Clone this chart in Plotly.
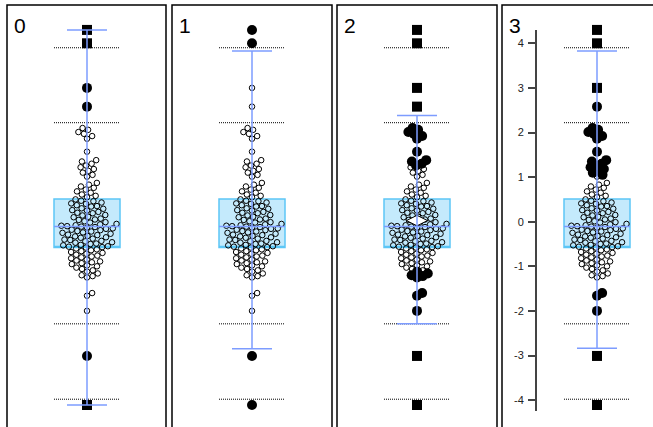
import math
import plotly.graph_objects as go

# ---------------- data ----------------
categories = ["0", "1", "2", "3"]

values = [
    4.30, 4.00, 3.00, 2.58,
    2.10, 2.06, 2.01, 1.97, 1.92, 1.86,
    1.57,
    1.38, 1.35, 1.30, 1.26, 1.22, 1.18, 1.14, 1.10, 1.05, 1.01,
    0.87, 0.83, 0.79, 0.76, 0.72, 0.68, 0.65, 0.61, 0.58, 0.55,
    0.50, 0.47, 0.46, 0.43, 0.41, 0.40, 0.37, 0.35, 0.34, 0.30, 0.29, 0.26,
    0.25, 0.22, 0.20, 0.19, 0.15, 0.14, 0.11, 0.10, 0.07, 0.05, 0.04, 0.01,
    -0.01, -0.02, -0.05, -0.06, -0.08, -0.09, -0.10, -0.11,
    -0.12, -0.13, -0.15, -0.16, -0.18, -0.19, -0.21, -0.22, -0.24, -0.25,
    -0.27, -0.29, -0.30, -0.32, -0.33, -0.35, -0.36, -0.38, -0.40, -0.41,
    -0.43, -0.44, -0.46, -0.47, -0.49, -0.50, -0.52, -0.53, -0.55, -0.56,
    -0.57, -0.58,
    -0.60, -0.62, -0.64, -0.66, -0.68, -0.70, -0.72, -0.74, -0.76, -0.78,
    -0.80, -0.82, -0.85, -0.87, -0.89, -0.91, -0.93, -0.95, -0.98, -1.00,
    -1.03, -1.06, -1.09, -1.12, -1.16, -1.20, -1.22, -1.25,
    -1.60, -1.66, -2.00, -3.01, -4.11,
]

q1 = -0.58
median = -0.11
q3 = 0.51

fence_values = [3.90, 2.22, -2.29, -3.98]

whisker_lo = [-4.11, -2.85, -2.29, -2.84]
whisker_hi = [4.30, 3.83, 2.38, 3.83]

# per panel: inside [open_lo, open_hi] -> open circle; beyond square limits -> square
open_lo = [-2.29, -2.85, -1.10, -1.30]
open_hi = [2.22, 3.83, 1.24, 1.03]
square_lo = [-3.98, -99.0, -2.29, -2.84]
square_hi = [3.90, 99.0, 2.38, 2.80]
show_mean = [False, False, True, False]

y_ticks = [4, 3, 2, 1, 0, -1, -2, -3, -4]
y_tick_text = ["4", "3", "2", "1", "0", "-1", "-2", "-3", "-4"]

# ---------------- layout constants ----------------
W, H = 653, 427
Y_MAX, Y_MIN = 4.9709, -4.6031
PX_PER_Y = H / (Y_MAX - Y_MIN)
centers_px = [87, 252, 417, 597]
HALF_PX = 55.0           # x-axis half width in px (range -1..1)
PX_PER_X = HALF_PX
frames_px = [(7, 166), (172, 332), (337, 497), (502, 664)]
FRAME_TOP = 5

BOX_FILL = "#c4eafc"
BOX_LINE = "#5cc6f6"
WHISK = "#7d9cff"
FONT = "Liberation Sans, Arial, sans-serif"


def swarm_offsets(vals, d):
    ys = [v * PX_PER_Y for v in vals]
    order = sorted(range(len(vals)), key=lambda i: ys[i])
    placed = []
    xs = [0.0] * len(vals)
    for i in order:
        y = ys[i]
        near = [(xj, yj) for (xj, yj) in placed if abs(y - yj) < d]
        cands = [0.0]
        for xj, yj in near:
            dx = math.sqrt(d * d - (y - yj) ** 2)
            cands += [xj + dx, xj - dx]
        cands.sort(key=lambda c: (abs(c), -c))
        chosen = 0.0
        for c in cands:
            if all((c - xj) ** 2 + (y - yj) ** 2 >= d * d - 1e-6 for xj, yj in near):
                chosen = c
                break
        xs[i] = chosen
        placed.append((chosen, y))
    return [x / PX_PER_X for x in xs]


offs = swarm_offsets(values, 5.8)
mean_value = sum(values) / len(values)

fig = go.Figure()

for p in range(4):
    xa = "x" if p == 0 else f"x{p + 1}"
    # box
    fig.add_trace(go.Box(
        x=[0], q1=[q1], median=[q1], q3=[q3], lowerfence=[q1], upperfence=[q3],
        width=66 / PX_PER_X, fillcolor=BOX_FILL, line=dict(color=BOX_LINE, width=1.5),
        whiskerwidth=0, boxpoints=False, xaxis=xa, yaxis="y", hoverinfo="skip",
        showlegend=False,
    ))
    # dotted fence lines
    fx, fy = [], []
    for f in fence_values:
        fx += [-33 / PX_PER_X, 33 / PX_PER_X, None]
        fy += [f, f, None]
    fig.add_trace(go.Scatter(x=fx, y=fy, mode="lines", xaxis=xa, yaxis="y",
                             line=dict(color="black", width=1, dash="1px,1px"),
                             hoverinfo="skip", showlegend=False))
    # points
    groups = {"open": ([], []), "filled": ([], []), "square": ([], [])}
    for v, o in zip(values, offs):
        if open_lo[p] <= v <= open_hi[p]:
            g = "open"
        elif v > square_hi[p] or v < square_lo[p]:
            g = "square"
        else:
            g = "filled"
        groups[g][0].append(o)
        groups[g][1].append(v)
    fig.add_trace(go.Scatter(x=groups["open"][0], y=groups["open"][1], mode="markers",
                             xaxis=xa, yaxis="y", cliponaxis=False,
                             marker=dict(symbol="circle-open", size=5.5, color="black",
                                         line=dict(width=1, color="black")),
                             hoverinfo="skip", showlegend=False))
    fig.add_trace(go.Scatter(x=groups["filled"][0], y=groups["filled"][1], mode="markers",
                             xaxis=xa, yaxis="y", cliponaxis=False,
                             marker=dict(symbol="circle", size=10, color="black",
                                         line=dict(width=0)),
                             hoverinfo="skip", showlegend=False))
    fig.add_trace(go.Scatter(x=groups["square"][0], y=groups["square"][1], mode="markers",
                             xaxis=xa, yaxis="y", cliponaxis=False,
                             marker=dict(symbol="square", size=10, color="black",
                                         line=dict(width=0)),
                             hoverinfo="skip", showlegend=False))
    if show_mean[p]:
        fig.add_trace(go.Scatter(x=[0], y=[mean_value], mode="markers", xaxis=xa,
                                 yaxis="y",
                                 marker=dict(symbol="diamond-wide", size=15, color="white",
                                             line=dict(width=1, color="black")),
                                 hoverinfo="skip", showlegend=False))
    # whisker + caps + median
    cw = 20 / PX_PER_X
    bw = 33 / PX_PER_X
    lx = [0, 0, None, -cw, cw, None, -cw, cw]
    ly = [whisker_lo[p], whisker_hi[p], None, whisker_lo[p], whisker_lo[p], None,
          whisker_hi[p], whisker_hi[p]]
    fig.add_trace(go.Scatter(x=lx, y=ly, mode="lines", xaxis=xa, yaxis="y",
                             line=dict(color=WHISK, width=1.5), cliponaxis=False,
                             hoverinfo="skip", showlegend=False))
    fig.add_trace(go.Scatter(x=[-bw, bw], y=[median, median], mode="lines", xaxis=xa,
                             yaxis="y", line=dict(color=WHISK, width=1.5),
                             hoverinfo="skip", showlegend=False))

# dummy trace for the visible axis of panel 3
fig.add_trace(go.Scatter(x=[0], y=[0], mode="markers", xaxis="x4", yaxis="y2",
                         marker=dict(opacity=0), hoverinfo="skip", showlegend=False))

layout = dict(
    width=W, height=H, margin=dict(l=0, r=0, t=0, b=0),
    paper_bgcolor="white", plot_bgcolor="rgba(0,0,0,0)", showlegend=False,
    yaxis=dict(range=[Y_MIN, Y_MAX], visible=False, domain=[0, 1]),
)
for p in range(4):
    key = "xaxis" if p == 0 else f"xaxis{p + 1}"
    c = centers_px[p]
    layout[key] = dict(range=[-1, 1], visible=False, anchor="y",
                       domain=[(c - HALF_PX) / W, (c + HALF_PX) / W])

# visible y axis in panel 3
ax_top_px, ax_bot_px = 30, 411
y2_hi = Y_MAX - ax_top_px / PX_PER_Y
y2_lo = Y_MAX - ax_bot_px / PX_PER_Y
layout["yaxis2"] = dict(
    range=[y2_lo, y2_hi], domain=[(H - ax_bot_px) / H, (H - ax_top_px) / H],
    anchor="free", position=536 / W, side="left",
    showline=True, linecolor="#444444", linewidth=2,
    ticks="outside", ticklen=7, tickwidth=1.5, tickcolor="#444444",
    tickvals=y_ticks, ticktext=y_tick_text, ticklabelstandoff=2,
    tickfont=dict(family=FONT, size=11, color="#222222"),
    showgrid=False, zeroline=False,
)
fig.update_layout(**layout)

# panel frames and labels
for p, (l, r) in enumerate(frames_px):
    fig.add_shape(type="rect", xref="paper", yref="paper",
                  x0=l / W, x1=r / W, y0=-0.1, y1=1 - FRAME_TOP / H,
                  line=dict(color="black", width=1.5), fillcolor="rgba(0,0,0,0)",
                  layer="above")
    fig.add_annotation(text=categories[p], xref="paper", yref="paper",
                       x=(l + 5) / W, y=1 - 12 / H, xanchor="left", yanchor="top",
                       showarrow=False, font=dict(family=FONT, size=21, color="black"))

fig.write_html("out.html", config={"displayModeBar": False},
               post_script="document.body.style.margin='0';document.body.style.overflow='hidden';")
